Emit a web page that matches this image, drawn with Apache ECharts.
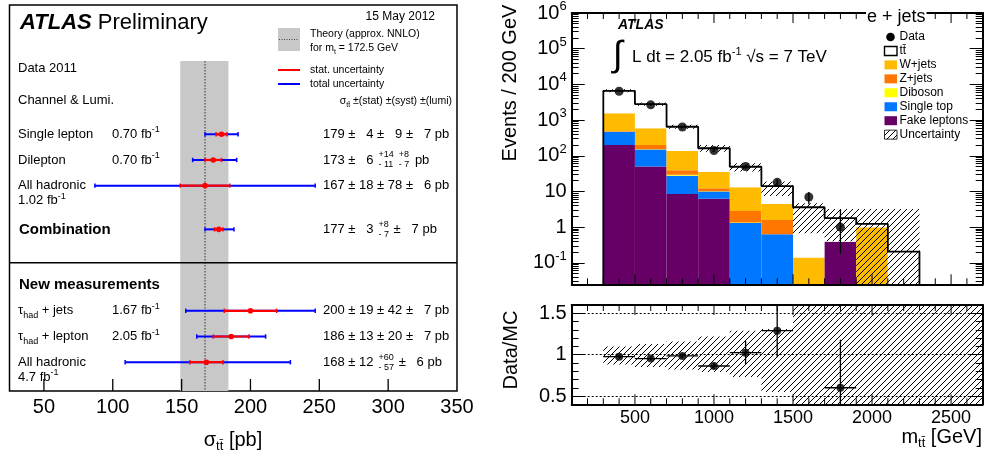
<!DOCTYPE html>
<html>
<head>
<meta charset="utf-8">
<script src="https://cdn.jsdelivr.net/npm/echarts@6.0.0/dist/echarts.min.js"></script>
<style>
html,body{margin:0;padding:0;background:#fff;}
#chart{width:986px;height:457px;}
</style>
</head>
<body>
<div id="chart"></div>
<script>
// ================= DATA =================
// ---- Left panel: ttbar cross-section measurements (pb)
const channelNames = ['Single lepton', 'Dilepton', 'All hadronic', 'Combination', 'τhad + jets', 'τhad + lepton', 'All hadronic'];
const channelLumi = ['0.70', '0.70', '1.02', '', '1.67', '2.05', '4.7'];
const xsecValue = [179, 173, 167, 177, 200, 186, 168];
const xsecStat = [4, 6, 18, 3, 19, 13, 12];
const xsecSystUp = [9, 14, 78, 8, 42, 20, 60];
const xsecSystDn = [9, 11, 78, 7, 42, 20, 57];
const xsecLumiUp = [7, 8, 6, 7, 7, 7, 6];
const xsecLumiDn = [7, 7, 6, 7, 7, 7, 6];
const xsecTotalUp = [12, 17, 80, 11, 47, 25, 61];
const xsecTotalDn = [12, 15, 80, 10, 47, 25, 59];
const theoryValue = [167];
const theoryLow = [149];
const theoryHigh = [184];
const xsecTickLabels = [50, 100, 150, 200, 250, 300, 350];

// ---- Right panel: m_tt distribution, e+jets
const massBinEdges = [300, 500, 700, 900, 1100, 1300, 1500, 1700, 1900, 2100, 2300];
const fakeLeptons = [200, 50, 8.5, 6.2, 0, 0, 0, 0.39, 0, 0];
const singleTop = [270, 100, 19, 3.7, 1.3, 0.63, 0, 0, 0, 0];
const diboson = [3, 2, 2, 0.3, 0.05, 0, 0, 0, 0, 0];
const zJets = [15, 48, 10, 2.1, 1.5, 0.95, 0, 0, 0, 0];
const wJets = [1060, 390, 96, 23, 10.3, 2.9, 0.14, 0, 0.99, 0];
const ttbar = [5050, 2210, 514, 127, 36, 9.7, 3.46, 1.39, 0.24, 0.206];
const uncLow = [6000, 2500, 570, 130, 36, 7.5, 0.67, 0.4, 0, 0];
const uncHigh = [7300, 3100, 740, 200, 62, 19, 4.7, 3.2, 3.2, 3.2];
const dataEvents = [6440, 2670, 640, 140, 50, 18, 7, 1, null, null];
const dataLow = [6360, 2610, 615, 128, 43, 14, 4.4, 0.18, null, null];
const dataHigh = [6520, 2730, 665, 152, 57, 22, 9.6, 3.1, null, null];
const ratioValues = [0.976, 0.952, 0.984, 0.863, 1.024, 1.29, null, 0.60, null, null];
const ratioErr = [0.02, 0.025, 0.03, 0.04, 0.14, 0.32, null, 0.58, null, null];
const ratioBandEdges = [300, 500, 700, 900, 1100, 1300, 1500, 2700];
const ratioBandLow = [0.88, 0.85, 0.82, 0.79, 0.73, 0.55, 0.4];
const ratioBandHigh = [1.10, 1.13, 1.16, 1.22, 1.29, 1.31, 1.6];
const massTickLabels = [500, 1000, 1500, 2000, 2500];
const ratioTickLabels = [0.5, 1, 1.5];
const eventTickLabels = [0.1, 1, 10, 100, 1000, 10000, 100000, 1000000];

// ================= LAYOUT / STYLE =================
const FF = '"Liberation Sans", Arial, Helvetica, sans-serif';
const rowSlot = [0, 1, 2, 3.7, 6.87, 7.87, 8.87];
const lumiBelow = [false, false, true, false, false, false, true];
const SLOT_MIN = -5.03, SLOT_MAX = 9.99, BAND_TOP_SLOT = -2.85, DIVIDER_SLOT = 5;
const X_MIN_L = 25, X_MAX_L = 350;
const M_MIN = 100, M_MAX = 2700;
const Y_MIN = 0.025, Y_MAX = 1.00001e6;
const R_MIN = 0.4, R_MAX = 1.6;
const compColors = ['#660066', '#0077ff', '#ffff00', '#ff7700', '#ffbb00', '#ffffff'];
const comps = [fakeLeptons, singleTop, diboson, zJets, wJets, ttbar];
const compNames = ['Fake leptons', 'Single top', 'Diboson', 'Z+jets', 'W+jets', 'tt\u0304'];

function hatchCanvas() {
  const s = 6, c = document.createElement('canvas');
  c.width = s; c.height = s;
  const g = c.getContext('2d');
  g.strokeStyle = '#000'; g.lineWidth = 1;
  g.beginPath();
  g.moveTo(0, s); g.lineTo(s, 0);
  g.moveTo(-1, 1); g.lineTo(1, -1);
  g.moveTo(s - 1, s + 1); g.lineTo(s + 1, s - 1);
  g.stroke();
  return c;
}
const HATCH = { image: hatchCanvas(), repeat: 'repeat' };

const measure = (() => {
  const c = document.createElement('canvas').getContext('2d');
  return (txt, size, weight) => { c.font = (weight || 'normal') + ' ' + size + 'px ' + FF; return c.measureText(txt).width; };
})();

function richFor(base) {
  const s = Math.round(base * 0.66);
  return {
    n: { fontSize: base, lineHeight: base + 5 },
    b: { fontSize: base, lineHeight: base + 5, fontWeight: 'bold', fontStyle: 'italic' },
    sup: { fontSize: s, lineHeight: s, verticalAlign: 'top' },
    sub: { fontSize: s, lineHeight: s, verticalAlign: 'bottom' }
  };
}
function T(x, y, text, o) {
  o = o || {};
  const size = o.size || 13;
  const st = {
    text: text, fill: '#000', fontFamily: FF, fontSize: size,
    fontWeight: o.weight || 'normal', fontStyle: o.fstyle || 'normal',
    align: o.align || 'left', verticalAlign: 'middle',
    lineHeight: size + 5, rich: richFor(size)
  };
  if (o.bg) { st.backgroundColor = o.bg; st.padding = [0, 1, 0, 1]; }
  return { type: 'text', x: x, y: y, rotation: o.rot || 0, silent: true, z: 50, style: st };
}
const pad = n => (n < 10 ? '  ' + n : '' + n);

// ================= GRAPHICS (text, legends) =================
const graphics = [];
graphics.push(T(20, 23, '{b|ATLAS}{n| Preliminary}', { size: 22 }));
graphics.push(T(435, 17, '15 May 2012', { size: 12, align: 'right' }));
graphics.push({ type: 'rect', silent: true, z: 50, shape: { x: 278, y: 28, width: 22, height: 23 }, style: { fill: '#c8c8c8' } });
graphics.push({ type: 'line', silent: true, z: 51, shape: { x1: 279, y1: 39.5, x2: 299, y2: 39.5 }, style: { stroke: '#444', lineWidth: 1, lineDash: [1, 1.5] } });
graphics.push(T(310, 34, 'Theory (approx. NNLO)', { size: 10.5 }));
graphics.push(T(310, 48, '{n|for m}{sub|t}{n| = 172.5 GeV}', { size: 10.5 }));
graphics.push({ type: 'line', silent: true, z: 50, shape: { x1: 278, y1: 70, x2: 300, y2: 70 }, style: { stroke: '#ff0000', lineWidth: 2 } });
graphics.push(T(310, 70, 'stat. uncertainty', { size: 10.5 }));
graphics.push({ type: 'line', silent: true, z: 50, shape: { x1: 278, y1: 84, x2: 300, y2: 84 }, style: { stroke: '#0000ff', lineWidth: 2 } });
graphics.push(T(310, 84, 'total uncertainty', { size: 10.5 }));
graphics.push(T(452, 101, '{n|σ}{sub|tt\u0304}{n| ±(stat) ±(syst) ±(lumi)}', { size: 10.5, align: 'right' }));
graphics.push(T(18, 68, 'Data 2011', { size: 13 }));
graphics.push(T(18, 100, 'Channel & Lumi.', { size: 13 }));
graphics.push(T(19, 285, 'New measurements', { size: 15, weight: 'bold' }));

channelNames.forEach((name, i) => {
  const y = 134.3 + 25.7 * rowSlot[i];
  let label = '{n|' + name + '}';
  if (name.indexOf('τhad') === 0) label = '{n|τ}{sub|had}{n|' + name.slice(4) + '}';
  if (name === 'Combination') graphics.push(T(19, y, name, { size: 15, weight: 'bold' }));
  else graphics.push(T(18, y, label, { size: 13 }));
  if (channelLumi[i]) {
    const lt = '{n|' + channelLumi[i] + ' fb}{sup|-1}';
    if (lumiBelow[i]) graphics.push(T(18, y + 15, lt, { size: 13 }));
    else graphics.push(T(112, y, lt, { size: 13 }));
  }
  let x = 323;
  const symSyst = xsecSystUp[i] === xsecSystDn[i];
  const symLumi = xsecLumiUp[i] === xsecLumiDn[i];
  let main = xsecValue[i] + ' ± ' + pad(xsecStat[i]);
  if (symSyst) main += ' ± ' + pad(xsecSystUp[i]);
  graphics.push(T(x, y, main, { size: 13 }));
  x += measure(main, 13);
  const stacked = (up, dn) => {
    x += 5;
    const a = '+' + up, b = '- ' + dn;
    graphics.push(T(x, y - 5, a, { size: 9 }));
    graphics.push(T(x, y + 5, b, { size: 9 }));
    x += Math.max(measure(a, 9), measure(b, 9));
  };
  if (!symSyst) stacked(xsecSystUp[i], xsecSystDn[i]);
  if (symLumi) {
    const tail = ' ± ' + pad(xsecLumiUp[i]) + ' pb';
    graphics.push(T(x + (symSyst ? 0 : 1), y, tail, { size: 13 }));
  } else {
    stacked(xsecLumiUp[i], xsecLumiDn[i]);
    graphics.push(T(x + 2, y, ' pb', { size: 13 }));
  }
});
graphics.push(T(233, 440, '{n|σ}{sub|tt\u0304}{n| [pb]}', { size: 20, align: 'center' }));

graphics.push(T(618, 25, 'ATLAS', { size: 14, weight: 'bold', fstyle: 'italic' }));
graphics.push(T(613, 56, '∫', { size: 36 }));
graphics.push(T(632, 57, '{n|L dt = 2.05 fb}{sup|-1}{n| √s = 7 TeV}', { size: 17 }));
graphics.push(T(866, 17, 'e + jets', { size: 18, bg: '#fff' }));
graphics.push(T(510, 83, 'Events / 200 GeV', { size: 20, align: 'center', rot: Math.PI / 2 }));
graphics.push(T(511, 350, 'Data/MC', { size: 20, align: 'center', rot: Math.PI / 2 }));
graphics.push(T(982, 437, '{n|m}{sub|tt\u0304}{n| [GeV]}', { size: 20, align: 'right' }));

const legendEntries = [{ label: 'Data', kind: 'dot' }, { label: compNames[5], kind: 'box', fill: '#fff' }];
[4, 3, 2, 1, 0].forEach(ci => legendEntries.push({ label: compNames[ci], kind: 'box', fill: compColors[ci] }));
legendEntries.push({ label: 'Uncertainty', kind: 'hatch' });
legendEntries.forEach((e, k) => {
  const y = 37 + 13.95 * k;
  if (e.kind === 'dot') graphics.push({ type: 'circle', silent: true, z: 50, shape: { cx: 890.5, cy: y, r: 4.3 }, style: { fill: '#000' } });
  else if (e.kind === 'box') graphics.push({ type: 'rect', silent: true, z: 50, shape: { x: 884.5, y: y - 4.5, width: 12.5, height: 9 }, style: { fill: e.fill, stroke: e.fill === '#fff' ? '#000' : null, lineWidth: 1.4 } });
  else graphics.push({ type: 'rect', silent: true, z: 50, shape: { x: 884.5, y: y - 4.5, width: 12.5, height: 9 }, style: { fill: HATCH, stroke: '#000', lineWidth: 0.8 } });
  graphics.push(T(899.5, y, e.label, { size: 12 }));
});

// ================= AXES =================
function ax(extra) {
  return Object.assign({
    type: 'value', z: 10, silent: true,
    splitLine: { show: false }, axisLine: { show: false, onZero: false },
    axisTick: { show: false }, axisLabel: { show: false }, axisPointer: { show: false }
  }, extra);
}
const tick = (vals, len, w) => ({ show: true, inside: true, length: len, customValues: vals, lineStyle: { color: '#000', width: w || 1 } });
const frame = { show: true, onZero: false, lineStyle: { color: '#000', width: 2 } };
const minorMass = [];
for (let v = 200; v <= 2600; v += 100) if (v % 500 !== 0) minorMass.push(v);
const minorLog = [];
for (let d = -2; d <= 5; d++) for (let k = 2; k <= 9; k++) { const v = k * Math.pow(10, d); if (v > Y_MIN && v < 1e6) minorLog.push(v); }
const minorRatio = [];
for (let k = 4; k <= 16; k++) if (k % 5 !== 0) minorRatio.push(k / 10);

const xAxes = [
  ax({ gridIndex: 0, min: X_MIN_L, max: X_MAX_L, position: 'bottom',
       axisLabel: { show: true, customValues: xsecTickLabels, formatter: v => String(v), fontSize: 20, color: '#000', fontFamily: FF, margin: 6 } }),
  ax({ gridIndex: 1, min: M_MIN, max: M_MAX, position: 'bottom', axisLine: frame }),
  ax({ gridIndex: 1, min: M_MIN, max: M_MAX, position: 'top', axisLine: frame }),
  ax({ gridIndex: 2, min: M_MIN, max: M_MAX, position: 'bottom', axisLine: frame,
       axisLabel: { show: true, customValues: massTickLabels, formatter: v => String(v), fontSize: 18, color: '#000', fontFamily: FF, margin: 5 } }),
  ax({ gridIndex: 2, min: M_MIN, max: M_MAX, position: 'top', axisLine: frame })
];
const logLabel = v => {
  const e = Math.round(Math.log10(v));
  if (e === 0) return '1';
  if (e === 1) return '10';
  return '{n|10}{sup|' + e + '}';
};
const yAxes = [
  ax({ gridIndex: 0, min: SLOT_MIN, max: SLOT_MAX, inverse: true, show: false }),
  ax({ gridIndex: 1, type: 'log', logBase: 10, min: Y_MIN, max: Y_MAX, position: 'left', axisLine: frame,
       axisLabel: { show: true, customValues: eventTickLabels, formatter: logLabel, fontSize: 20, color: '#000', fontFamily: FF, margin: 5,
                    rich: { n: { fontSize: 20, lineHeight: 26, color: '#000', fontFamily: FF }, sup: { fontSize: 13, lineHeight: 13, verticalAlign: 'top', color: '#000', fontFamily: FF } } } }),
  ax({ gridIndex: 1, type: 'log', logBase: 10, min: Y_MIN, max: Y_MAX, position: 'left', axisTick: tick(minorLog, 7) }),
  ax({ gridIndex: 1, type: 'log', logBase: 10, min: Y_MIN, max: Y_MAX, position: 'right', axisLine: frame, axisTick: tick(eventTickLabels, 13) }),
  ax({ gridIndex: 1, type: 'log', logBase: 10, min: Y_MIN, max: Y_MAX, position: 'right', axisTick: tick(minorLog, 7) }),
  ax({ gridIndex: 2, min: R_MIN, max: R_MAX, position: 'left', axisLine: frame,
       axisLabel: { show: true, customValues: ratioTickLabels, formatter: v => String(v), fontSize: 20, color: '#000', fontFamily: FF, margin: 5 } }),
  ax({ gridIndex: 2, min: R_MIN, max: R_MAX, position: 'left', axisTick: tick(minorRatio, 7) }),
  ax({ gridIndex: 2, min: R_MIN, max: R_MAX, position: 'right', axisLine: frame, axisTick: tick(ratioTickLabels, 13) }),
  ax({ gridIndex: 2, min: R_MIN, max: R_MAX, position: 'right', axisTick: tick(minorRatio, 7) }),
  ax({ gridIndex: 1, type: 'log', logBase: 10, min: Y_MIN, max: Y_MAX, position: 'left', axisTick: tick(eventTickLabels, 13) }),
  ax({ gridIndex: 2, min: R_MIN, max: R_MAX, position: 'left', axisTick: tick(ratioTickLabels, 13) })
];

// ================= SERIES DATA =================
const nBins = massBinEdges.length - 1;
const stackRows = [];
const totals = [];
for (let b = 0; b < nBins; b++) {
  let cum = 0;
  comps.forEach((arr, ci) => {
    const v = arr[b];
    if (v > 0) stackRows.push([massBinEdges[b], massBinEdges[b + 1], Math.max(cum, Y_MIN), cum + v, ci]);
    cum += v;
  });
  totals.push(cum);
}
const outline = [[massBinEdges[0], Y_MIN]];
for (let b = 0; b < nBins; b++) { outline.push([massBinEdges[b], totals[b]]); outline.push([massBinEdges[b + 1], totals[b]]); }
outline.push([massBinEdges[nBins], Y_MIN]);
const uncRows = [];
for (let b = 0; b < nBins; b++) uncRows.push([massBinEdges[b], massBinEdges[b + 1], Math.max(uncLow[b], Y_MIN), uncHigh[b]]);
const dataPts = [], dataErrRows = [];
for (let b = 0; b < nBins; b++) {
  if (dataEvents[b] == null) continue;
  const c = (massBinEdges[b] + massBinEdges[b + 1]) / 2;
  dataPts.push([c, dataEvents[b]]);
  dataErrRows.push([c, Math.max(dataLow[b], Y_MIN), dataHigh[b]]);
}
const ratioPts = [], ratioErrRows = [];
for (let b = 0; b < nBins; b++) {
  if (ratioValues[b] == null) continue;
  const c = (massBinEdges[b] + massBinEdges[b + 1]) / 2;
  ratioPts.push([c, ratioValues[b]]);
  ratioErrRows.push([massBinEdges[b], massBinEdges[b + 1], ratioValues[b], ratioValues[b] - ratioErr[b], ratioValues[b] + ratioErr[b]]);
}
const ratioBandRows = ratioBandLow.map((lo, k) => [ratioBandEdges[k], ratioBandEdges[k + 1], lo, ratioBandHigh[k]]);
const xsecRows = xsecValue.map((v, i) => [v, xsecStat[i], xsecTotalDn[i], xsecTotalUp[i], rowSlot[i]]);

function rectRender(fillFn) {
  return function (params, api) {
    const p0 = api.coord([api.value(0), api.value(3)]);
    const p1 = api.coord([api.value(1), api.value(2)]);
    return { type: 'rect', shape: { x: p0[0], y: p0[1], width: p1[0] - p0[0], height: p1[1] - p0[1] }, style: { fill: fillFn(api) } };
  };
}
const line = (x1, y1, x2, y2, color, w) => ({ type: 'line', shape: { x1, y1, x2, y2 }, style: { stroke: color, lineWidth: w } });

// x-axis tick marks drawn through the x scale of each grid
function xTickSeries(xi, yi, yRef, majors, minors, majLen, minLen, both, w) {
  const data = majors.map(v => [v, yRef, 1]).concat(minors.map(v => [v, yRef, 0]));
  return {
    type: 'custom', xAxisIndex: xi, yAxisIndex: yi, silent: true, z: 20,
    data: data, encode: { x: 0, y: 1 },
    renderItem(params, api) {
      const cs = params.coordSys;
      const x = api.coord([api.value(0), api.value(1)])[0];
      const len = api.value(2) ? majLen : minLen;
      const yb = cs.y + cs.height;
      const kids = [line(x, yb, x, yb - len, '#000', w)];
      if (both) kids.push(line(x, cs.y, x, cs.y + len, '#000', w));
      return { type: 'group', children: kids };
    }
  };
}
const leftMajors = xsecTickLabels.filter(v => v < X_MAX_L);

const series = [
  {
    type: 'custom', xAxisIndex: 0, yAxisIndex: 0, silent: true, z: 1,
    data: [[theoryLow[0], theoryHigh[0], theoryValue[0]]], encode: { x: [0, 1, 2] },
    renderItem(params, api) {
      const p0 = api.coord([api.value(0), BAND_TOP_SLOT]);
      const p1 = api.coord([api.value(1), SLOT_MAX]);
      const pc0 = api.coord([api.value(2), BAND_TOP_SLOT]);
      const pc1 = api.coord([api.value(2), SLOT_MAX]);
      const cs = params.coordSys;
      const yd = api.coord([X_MIN_L, DIVIDER_SLOT])[1];
      return { type: 'group', children: [
        { type: 'rect', shape: { x: p0[0], y: p0[1], width: p1[0] - p0[0], height: p1[1] - p0[1] }, style: { fill: '#c8c8c8' } },
        { type: 'line', shape: { x1: pc0[0], y1: pc0[1], x2: pc1[0], y2: pc1[1] }, style: { stroke: '#333', lineWidth: 1, lineDash: [1.5, 1.5] } },
        line(cs.x, yd, cs.x + cs.width, yd, '#000', 1.5)
      ] };
    }
  },
  {
    type: 'custom', xAxisIndex: 0, yAxisIndex: 0, silent: true, z: 3,
    data: xsecRows, encode: { x: 0, y: 4 },
    renderItem(params, api) {
      const c = api.value(0), s = api.value(1), td = api.value(2), tu = api.value(3), r = api.value(4);
      const b0 = api.coord([c - td, r]), b1 = api.coord([c + tu, r]);
      const r0 = api.coord([c - s, r]), r1 = api.coord([c + s, r]);
      const pc = api.coord([c, r]);
      const h = 2.2;
      return { type: 'group', children: [
        line(b0[0], b0[1], b1[0], b1[1], '#0000ff', 2),
        line(b0[0], b0[1] - h, b0[0], b0[1] + h, '#0000ff', 1.5),
        line(b1[0], b1[1] - h, b1[0], b1[1] + h, '#0000ff', 1.5),
        line(r0[0], r0[1], r1[0], r1[1], '#ff0000', 2.2),
        line(r0[0], r0[1] - h, r0[0], r0[1] + h, '#ff0000', 1.5),
        line(r1[0], r1[1] - h, r1[0], r1[1] + h, '#ff0000', 1.5),
        { type: 'circle', shape: { cx: pc[0], cy: pc[1], r: 2.8 }, style: { fill: '#ff0000' } }
      ] };
    }
  },
  xTickSeries(0, 0, 0, leftMajors, [], 12, 0, false, 1.3),
  {
    type: 'custom', xAxisIndex: 1, yAxisIndex: 1, silent: true, clip: true, z: 2,
    data: stackRows, encode: { x: [0, 1], y: [2, 3] },
    renderItem: rectRender(api => compColors[api.value(4)])
  },
  {
    type: 'line', xAxisIndex: 1, yAxisIndex: 1, silent: true, clip: true, z: 3,
    data: outline, symbol: 'none', lineStyle: { color: '#000', width: 1.8 }
  },
  {
    type: 'custom', xAxisIndex: 1, yAxisIndex: 1, silent: true, clip: true, z: 4,
    data: uncRows, encode: { x: [0, 1], y: [2, 3] },
    renderItem: rectRender(() => HATCH)
  },
  {
    type: 'custom', xAxisIndex: 1, yAxisIndex: 1, silent: true, clip: true, z: 5,
    data: dataErrRows, encode: { x: 0, y: [1, 2] },
    renderItem(params, api) {
      const a = api.coord([api.value(0), api.value(1)]), b = api.coord([api.value(0), api.value(2)]);
      return line(a[0], a[1], b[0], b[1], '#000', 1.3);
    }
  },
  {
    type: 'scatter', xAxisIndex: 1, yAxisIndex: 1, silent: true, z: 6,
    data: dataPts, symbol: 'circle', symbolSize: 9, itemStyle: { color: '#000' }
  },
  xTickSeries(1, 1, 1, massTickLabels, minorMass, 10, 6, true, 1),
  {
    type: 'custom', xAxisIndex: 3, yAxisIndex: 5, silent: true, clip: true, z: 2,
    data: ratioBandRows, encode: { x: [0, 1], y: [2, 3] },
    renderItem: rectRender(() => HATCH)
  },
  {
    type: 'custom', xAxisIndex: 3, yAxisIndex: 5, silent: true, clip: true, z: 5,
    data: ratioErrRows, encode: { x: [0, 1], y: [2, 3, 4] },
    renderItem(params, api) {
      const x0 = api.value(0), x1 = api.value(1), v = api.value(2), lo = api.value(3), hi = api.value(4);
      const xc = (x0 + x1) / 2;
      const h0 = api.coord([x0, v]), h1 = api.coord([x1, v]);
      const v0 = api.coord([xc, lo]), v1 = api.coord([xc, hi]);
      return { type: 'group', children: [
        line(h0[0], h0[1], h1[0], h1[1], '#000', 1.3),
        line(v0[0], v0[1], v1[0], v1[1], '#000', 1.3)
      ] };
    }
  },
  {
    type: 'scatter', xAxisIndex: 3, yAxisIndex: 5, silent: true, z: 6,
    data: ratioPts, symbol: 'circle', symbolSize: 8, itemStyle: { color: '#000' },
    markLine: {
      silent: true, symbol: ['none', 'none'], label: { show: false }, animation: false,
      lineStyle: { type: [2, 2], color: '#000', width: 1 },
      data: ratioTickLabels.map(v => ({ yAxis: v }))
    }
  },
  xTickSeries(3, 5, 1, massTickLabels, minorMass, 10, 6, true, 1)
];

const chart = echarts.init(document.getElementById('chart'), null, { renderer: 'canvas' });
chart.setOption({
  animation: false,
  backgroundColor: '#fff',
  textStyle: { fontFamily: FF },
  grid: [
    { left: 9.5, top: 5, width: 447.5, height: 386, show: true, borderColor: '#000', borderWidth: 1.5, backgroundColor: 'transparent' },
    { left: 571.7, top: 13, width: 411, height: 271.3 },
    { left: 571.7, top: 305, width: 411, height: 99.3 }
  ],
  xAxis: xAxes,
  yAxis: yAxes,
  series: series,
  graphic: graphics
});
</script>
</body>
</html>
